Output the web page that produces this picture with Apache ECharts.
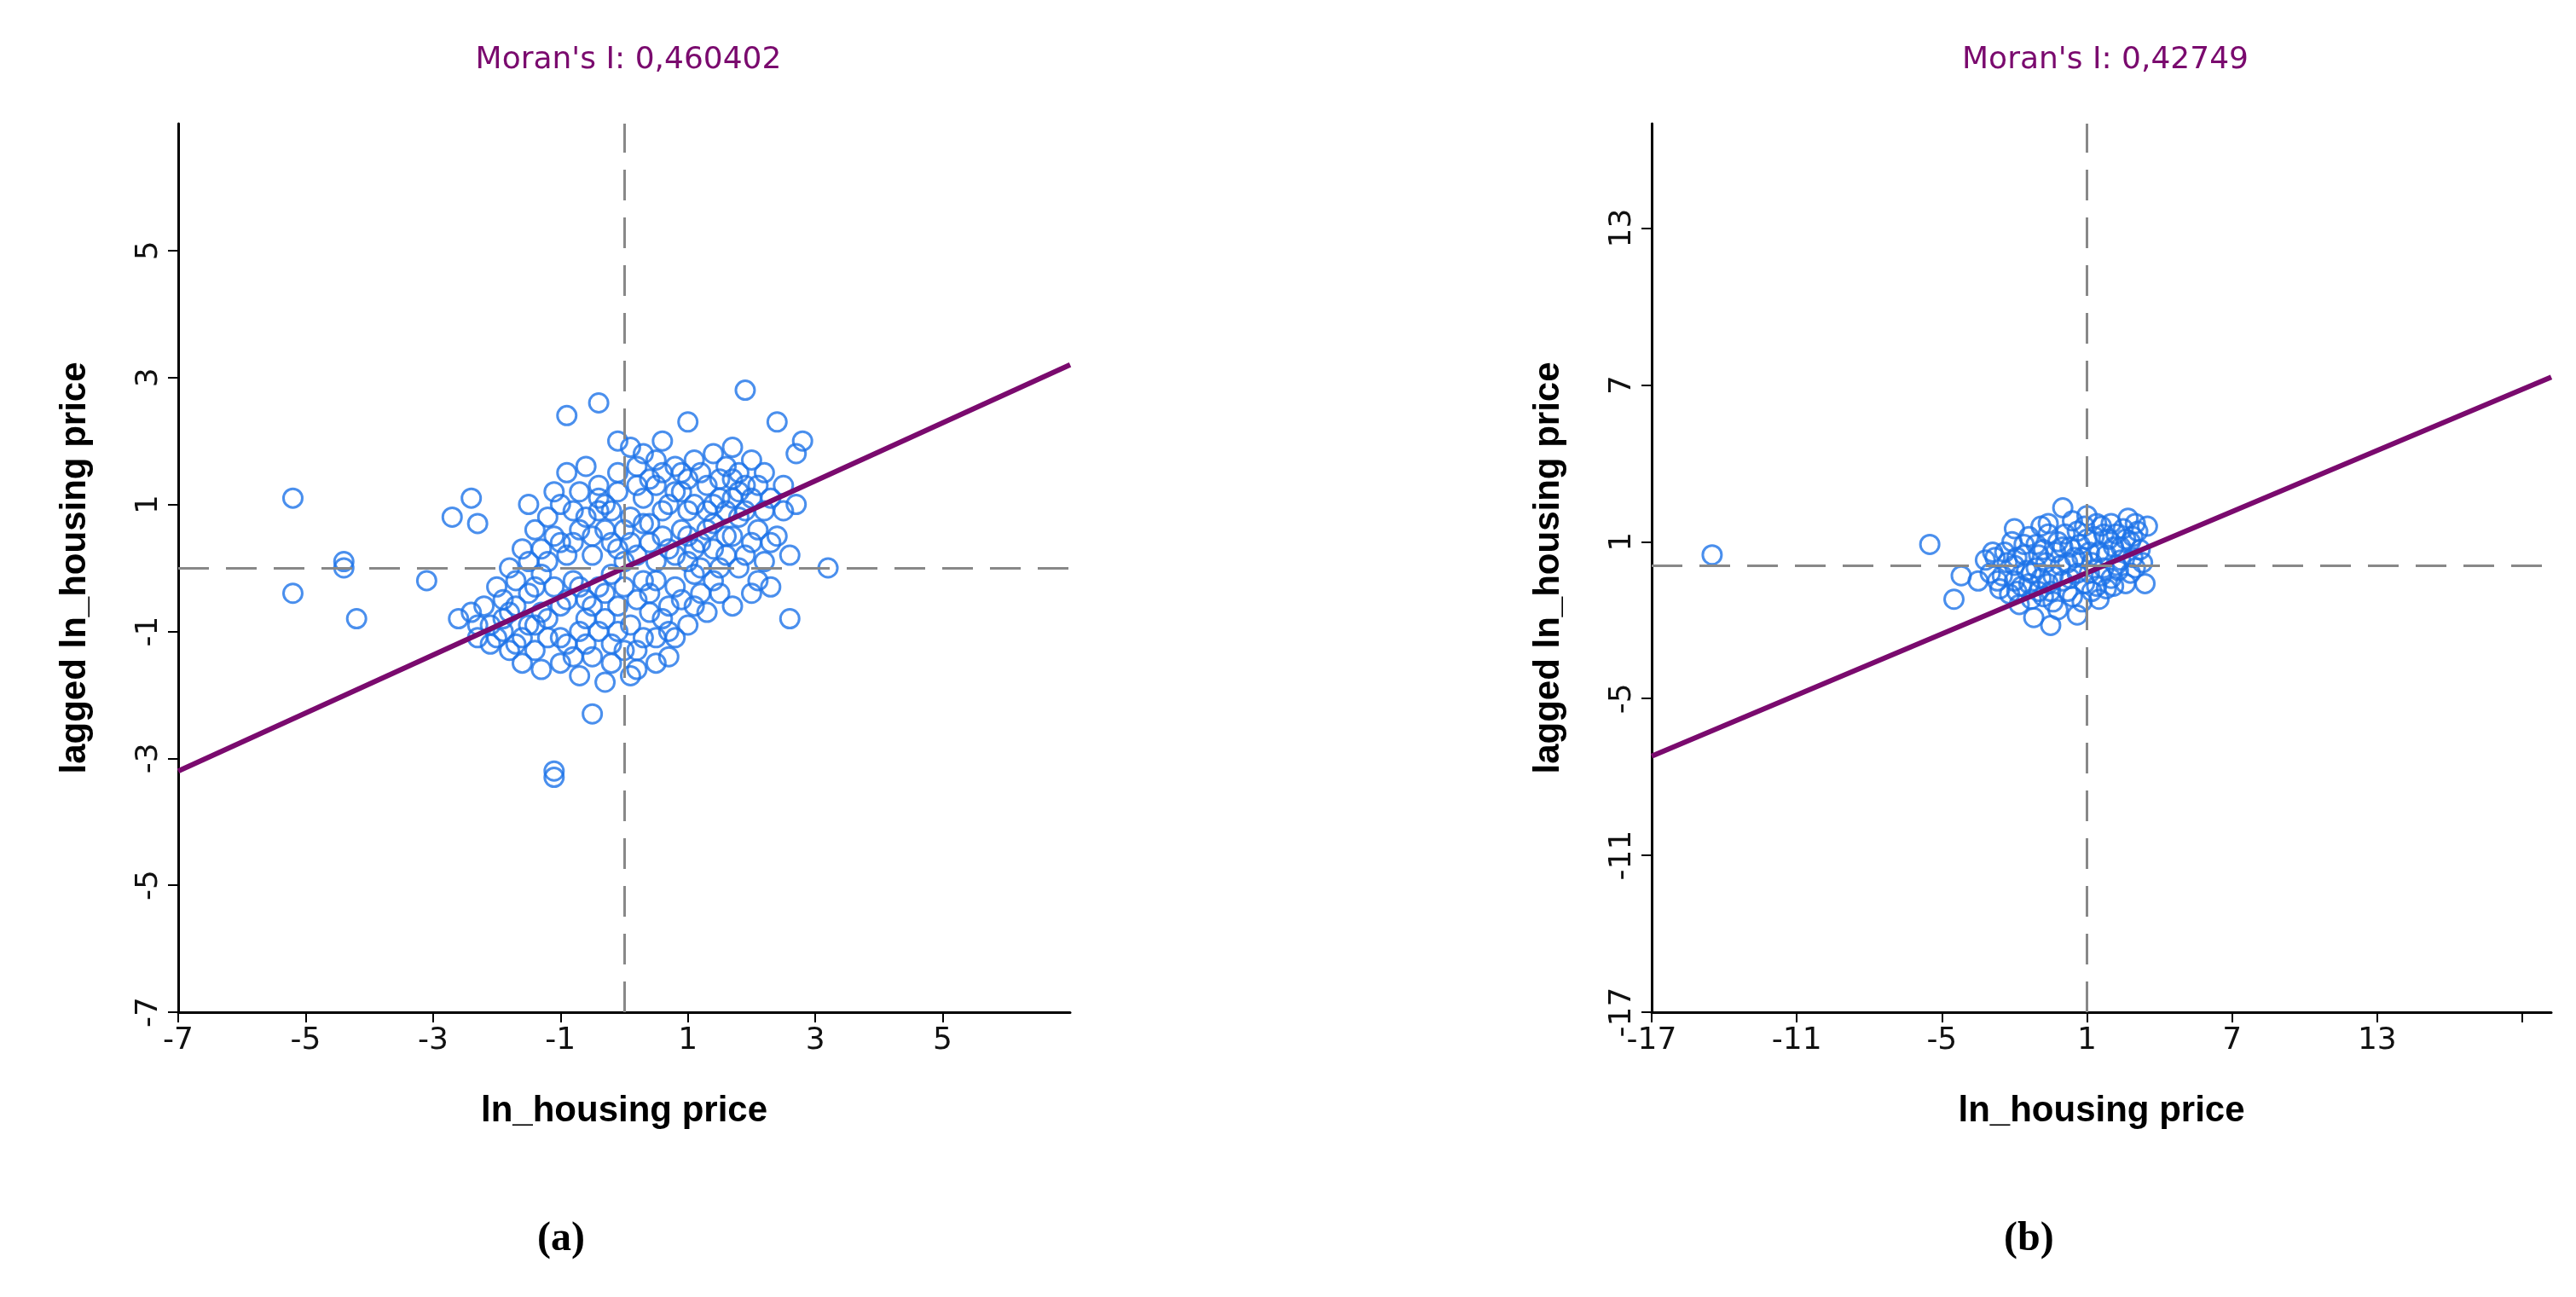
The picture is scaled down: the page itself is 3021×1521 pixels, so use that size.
<!DOCTYPE html>
<html>
<head>
<meta charset="utf-8">
<script src="https://cdn.jsdelivr.net/npm/echarts@6/dist/echarts.min.js"></script>
<style>html,body{margin:0;background:#fff}#main{width:3021px;height:1521px}</style>
</head>
<body>
<div id="main"></div>
<script>
// 数据 (a)
var titlesA = "Moran's I: 0,460402";
var titlesB = "Moran's I: 0,42749";
var pointsA = [
  [-5.2,1.1],[-5.2,-0.4],[-4.4,0],[-4.4,0.1],[-4.2,-0.8],[-3.1,-0.2],[-2.7,0.8],[-2.4,1.1],[-2.3,0.7],
  [-1.5,1.0],[-0.9,2.4],[-0.4,2.6],[-1.1,-3.2],[-1.1,-3.3],[-0.5,-2.3],[1.9,2.8],[3.2,0],[2.6,-0.8],
  [2.8,2.0],[1.0,2.3],[-0.9,1.5],[2.4,2.3],[2.7,1.8],[2.2,1.5],[2.5,0.9],[2.3,-0.3],[2.0,-0.4],[1.7,-0.6],
  [-2.6,-0.8],[-2.3,-0.9],[-2.0,-1.1],[-1.8,-1.3],[-1.6,-1.5],[-1.3,-1.6],[-1.0,-1.5],[-0.7,-1.7],[-0.3,-1.8],
  [0.2,-1.6],[0.5,-1.5],[0.7,-1.4],[-2.2,-0.6],[-2.0,-0.3],[-1.8,0],[-1.6,0.3],[-1.4,0.6],[-1.2,0.8],[-1.0,1.0],
  [-0.7,1.2],[-0.4,1.3],[-0.1,1.5],[0.2,1.6],[0.5,1.7],[0.8,1.6],[1.1,1.7],[1.4,1.8],[1.7,1.9],[2.0,1.7],
  [-1.9,-0.8],[-1.7,-0.6],[-1.5,-0.9],[-1.4,-0.3],[-1.2,-1.1],[-1.2,0.1],[-1.0,-0.6],[-1.0,0.4],[-0.9,-1.2],
  [-0.8,-0.2],[-0.7,0.6],[-0.6,-0.8],[-0.5,0.2],[-0.5,-1.4],[-0.4,0.9],[-0.3,-0.4],[-0.2,0.4],[-0.1,-1.0],
  [0,0.1],[0.1,0.8],[0.2,-0.5],[0.3,1.1],[0.3,-1.1],[0.4,0.4],[0.5,-0.2],[0.6,0.9],[0.6,-0.8],[0.7,0.3],
  [0.8,1.2],[0.8,-0.3],[0.9,0.6],[1.0,-0.9],[1.0,0.1],[1.1,1.0],[1.2,0.4],[1.2,-0.4],[1.3,1.3],[1.4,0.7],
  [1.5,0.0],[1.5,1.1],[1.6,0.5],[1.7,1.4],[1.8,0.8],[1.9,0.2],[2.0,1.1],[2.1,0.6],[2.2,0.1],[2.4,0.5],
  [-1.6,-1.1],[-1.3,-0.7],[-1.1,-0.3],[-0.9,0.2],[-0.6,-0.5],[-0.4,-1.0],[-0.2,-0.1],[0,0.6],[0.2,0.2],
  [0.4,-0.7],[0.5,1.3],[0.9,1.5],[1.1,-0.1],[1.3,0.9],[1.6,1.6],[-0.8,0.9],[-1.5,0.1],[-2.1,-1.2],[-0.3,1.0],
  [0.0,-1.3],[0.3,-0.2],[0.7,-1.0],[1.4,-0.2],[1.8,1.2],[2.2,0.9],[-0.6,1.6],[-1.1,1.2],[0.1,1.9],[0.6,2.0],
  [-0.2,-1.5],[-0.7,-1.0],[-1.3,-0.1],[-1.7,-0.2],[-1.9,-1.0],[1.0,0.9],[0.4,0.7],[-0.1,0.3],[-0.4,-0.3],
  [-2.4,-0.7],[-2.1,-0.9],[-1.9,-0.5],[-1.7,-1.2],[-1.5,-0.4],[-1.4,-1.3],[-1.3,0.3],[-1.2,-0.8],[-1.1,0.5],
  [-1.0,-1.1],[-0.9,-0.5],[-0.8,-1.4],[-0.8,0.4],[-0.7,-0.3],[-0.6,0.8],[-0.6,-1.2],[-0.5,0.5],[-0.5,-0.6],
  [-0.4,1.1],[-0.3,-0.8],[-0.3,0.6],[-0.2,-1.2],[-0.2,0.9],[-0.1,-0.6],[-0.1,1.2],[0,-0.3],[0.1,-0.9],
  [0.1,0.4],[0.2,1.3],[0.2,-1.3],[0.3,0.7],[0.4,-0.4],[0.4,1.4],[0.5,0.1],[0.5,-1.1],[0.6,0.5],[0.6,1.5],
  [0.7,-0.6],[0.7,1.0],[0.8,0.2],[0.8,-1.1],[0.9,1.2],[0.9,-0.5],[1.0,0.5],[1.0,1.4],[1.1,-0.6],[1.1,0.3],
  [1.2,1.5],[1.2,0.0],[1.3,0.6],[1.3,-0.7],[1.4,1.0],[1.4,0.3],[1.5,1.4],[1.5,-0.4],[1.6,0.9],[1.6,0.2],
  [1.7,1.1],[1.7,0.5],[1.8,1.5],[1.8,0.0],[1.9,0.9],[1.9,1.3],[2.0,0.4],[2.1,1.3],[2.1,-0.2],[2.3,1.1],
  [2.3,0.4],[2.5,1.3],[2.6,0.2],[2.7,1.0],[-0.1,2.0],[0.3,1.8],[-1.4,-0.9],[-1.8,-0.7],[-2.3,-1.1],[0.1,-1.7]
];
var pointsB = [
  [-14.5,0.5],[-5.5,0.9],[-4.5,-1.2],[-4.2,-0.3],[-3.5,-0.5],[-3.2,0.3],[-2.0,1.5],[3.5,1.6],[3.4,-0.6],
  [-3.0,-0.2],[-2.8,0.4],[-2.6,-0.8],[-2.4,0.6],[-2.2,-1.0],[-2.0,0.1],[-1.8,-1.4],[-1.6,0.9],[-1.4,-0.6],
  [-1.2,-1.9],[-1.0,0.5],[-0.8,-1.1],[-0.6,1.3],[-0.4,-0.3],[-0.2,-1.6],[0,0.8],[0.2,-0.9],[0.4,1.8],
  [0.6,-0.2],[0.8,-1.3],[1.0,1.1],[1.2,0.2],[1.4,-0.7],[1.6,1.6],[1.8,0.5],[2.0,-0.4],[2.2,1.3],[2.4,0.3],
  [2.6,-0.6],[2.8,1.0],[3.0,0.0],[3.2,0.7],[-2.5,-0.3],[-1.9,0.4],[-1.5,-0.1],[-1.1,0.9],[-0.7,0.2],
  [-0.3,0.6],[0.1,1.3],[0.5,0.4],[0.9,1.6],[1.3,1.2],[1.7,0.0],[2.1,0.8],[2.5,1.5],[2.9,0.4],[-1.3,-1.2],
  [-0.9,-0.4],[-0.5,-0.9],[-0.1,0.1],[0.3,-0.4],[0.7,0.9],[1.1,-0.2],[1.5,0.6],[1.9,1.1],[2.3,-0.1],
  [-1.7,-0.7],[0.0,2.3],[-0.5,-2.2],[0.6,-1.8],[1.5,-1.2],[2.7,1.9],[1.0,2.0],[-2.1,1.0],[3.1,1.4],
  [-2.7,-0.5],[-2.3,0.2],[-1.9,-0.9],[-1.6,0.5],[-1.3,-0.2],[-1.0,-0.9],[-0.8,0.7],[-0.6,-0.6],[-0.2,1.0],
  [0.2,0.2],[0.4,-1.1],[0.8,0.4],[1.2,-0.9],[1.4,1.7],[1.6,-0.3],[2.0,1.7],[2.2,0.1],[2.6,1.1],[2.8,-0.2],
  [3.0,1.7],[3.3,0.2],[-1.4,1.2],[-0.4,-1.3],[0.6,1.4],[1.8,-0.8],[2.4,0.8],[-2.9,0.6],[0.0,-0.5],[1.1,0.6],
  [-1.1,0.0],[0.3,0.8],[1.7,1.3],[2.9,1.2],[-0.6,1.7],[0.9,-0.6],[-2.0,-0.5],[-0.9,1.6],[2.1,-0.7]
];
var lineA = [[-7,-3.2],[7,3.2]];
var lineB = [[-17,-7.2],[20.2,7.3]];
var ticksA = [-7,-5,-3,-1,1,3,5];
var ticksB = [-17,-11,-5,1,7,13];

var chart = echarts.init(document.getElementById('main'));
var blue = '#1d73e8', purple = '#7a0a6e', font = 'DejaVu Sans';

function axis(grid, min, max, interval, name, isY, ticks) {
  var a = {
    gridIndex: grid, type: 'value', min: min, max: max, interval: interval,
    splitLine: {show: false},
    axisLine: {show: true, onZero: false, lineStyle: {color: '#000', width: 3}},
    axisTick: {show: true, length: 12, lineStyle: {color: '#000', width: 2}},
    axisLabel: {color: '#111', fontSize: 36, fontFamily: font, margin: 16, showMaxLabel: false,
      formatter: function (v) { return ticks.indexOf(v) >= 0 ? String(v) : ''; }},
    name: name, nameLocation: 'middle',
    nameTextStyle: {fontSize: 42, fontWeight: 'bold', fontFamily: 'Liberation Sans', color: '#000'}
  };
  if (isY) { a.axisLabel.rotate = 90; a.nameGap = 100; } else { a.nameGap = 95; }
  return a;
}

var dash = {color: '#888', type: [36, 20], width: 3};

var option = {
  animation: false,
  title: [
    {text: titlesA, left: 732, top: 48, textAlign: 'center', textStyle: {color: purple, fontSize: 36, fontWeight: 'normal', fontFamily: font}},
    {text: titlesB, left: 2464, top: 48, textAlign: 'center', textStyle: {color: purple, fontSize: 36, fontWeight: 'normal', fontFamily: font}}
  ],
  grid: [
    {left: 209, top: 145, width: 1046, height: 1042},
    {left: 1937, top: 145, width: 1055, height: 1042}
  ],
  xAxis: [
    axis(0, -7, 7, 2, 'ln_housing price', false, ticksA),
    axis(1, -17, 20.2, 6, 'ln_housing price', false, ticksB)
  ],
  yAxis: [
    axis(0, -7, 7, 2, 'lagged ln_housing price', true, ticksA),
    axis(1, -17, 17, 6, 'lagged ln_housing price', true, ticksB)
  ],
  graphic: [
    {type: 'text', left: 630, top: 1430, style: {text: '(a)', font: 'bold 48px "Liberation Serif"', fill: '#000'}},
    {type: 'text', left: 2350, top: 1430, style: {text: '(b)', font: 'bold 48px "Liberation Serif"', fill: '#000'}}
  ],
  series: [
    {type: 'scatter', xAxisIndex: 0, yAxisIndex: 0, data: pointsA, symbolSize: 22,
     itemStyle: {color: 'transparent', borderColor: blue, borderWidth: 3},
     markLine: {silent: true, symbol: 'none', label: {show: false}, lineStyle: dash, data: [{xAxis: 0}, {yAxis: 0}]}},
    {type: 'line', xAxisIndex: 0, yAxisIndex: 0, data: lineA, showSymbol: false, lineStyle: {color: purple, width: 6}},
    {type: 'scatter', xAxisIndex: 1, yAxisIndex: 1, data: pointsB, symbolSize: 22,
     itemStyle: {color: 'transparent', borderColor: blue, borderWidth: 3},
     markLine: {silent: true, symbol: 'none', label: {show: false}, lineStyle: dash, data: [{xAxis: 1}, {yAxis: 0.1}]}},
    {type: 'line', xAxisIndex: 1, yAxisIndex: 1, data: lineB, showSymbol: false, lineStyle: {color: purple, width: 6}}
  ]
};
chart.setOption(option);
</script>
</body>
</html>
